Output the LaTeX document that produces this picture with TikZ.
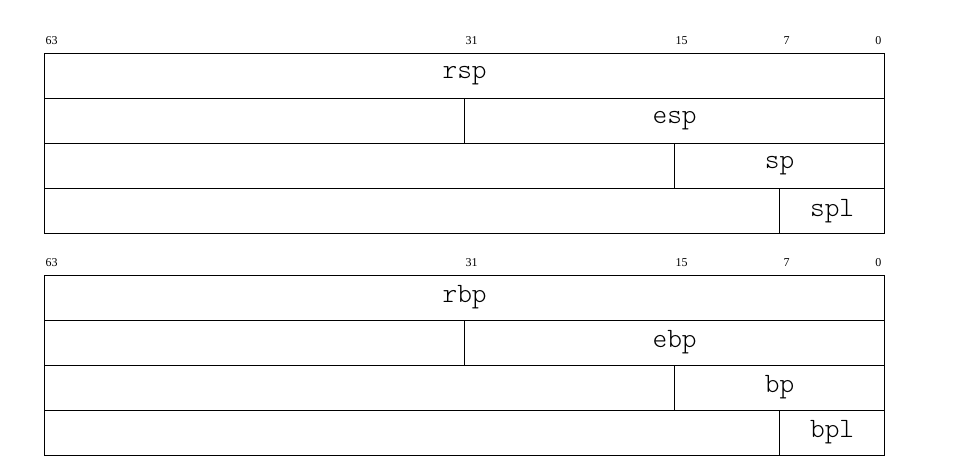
\documentclass[tikz,border=0pt]{standalone}
\usepackage{fontspec}
\setmainfont{Liberation Serif}
\newfontfamily\regfont{Latin Modern Mono Light}
\usetikzlibrary{positioning, calc}

\begin{document}
\begin{tikzpicture}[x=1pt, y=1pt,
    row/.style={draw, line width=0.8pt, minimum height=45pt, inner sep=0pt, anchor=north east},
    regname/.style={font=\regfont\fontsize{28}{28}\selectfont},
    bitnum/.style={font=\fontsize{12}{12}\selectfont}]
    \useasboundingbox (0,0) rectangle (961,472);

    % one bit is 840/64 = 13.125 wide, bit 0 ends at x = 885
    \def\bw{13.125}

    % register group (tag, top y, names)
    \foreach \g/\top/\full/\half/\word/\low in {s/419/rsp/esp/sp/spl, b/197.5/rbp/ebp/bp/bpl} {
        % bit numbers over each group
        \foreach \b in {63,31,15,7,0} {
            \node[bitnum] (n\g\b) at ({885-(\b+0.5)*\bw}, \top+12) {\b};
        }
        % full rows
        \foreach \r in {0,1,2,3} {
            \node[row, minimum width=840pt] (row\g\r) at (885, \top-45*\r) {};
        }
        % register parts at the low end
        \node[row, minimum width=840pt] (f\g64) at (row\g0.north east) {};
        \node[row, minimum width=420pt] (f\g32) at (row\g1.north east) {};
        \node[row, minimum width=210pt] (f\g16) at (row\g2.north east) {};
        \node[row, minimum width=105pt] (f\g8)  at (row\g3.north east) {};
        \node[regname] (t\g64) at (f\g64) {\full};
        \node[regname] (t\g32) at (f\g32) {\half};
        \node[regname] (t\g16) at (f\g16) {\word};
        \node[regname] (t\g8)  at (f\g8)  {\low};
    }
\end{tikzpicture}
\end{document}
